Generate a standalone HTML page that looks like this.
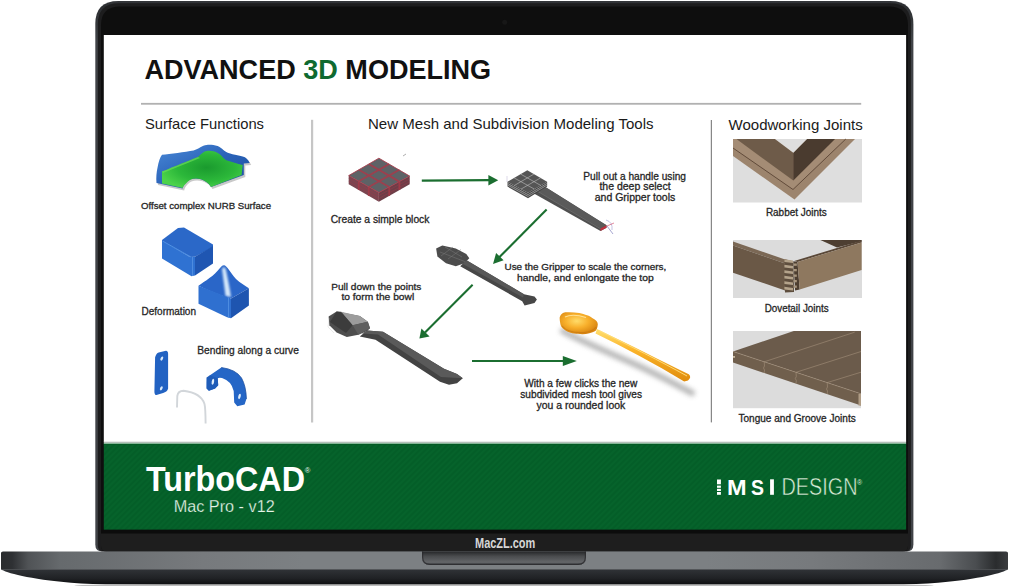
<!DOCTYPE html>
<html><head><meta charset="utf-8"><style>
html,body{margin:0;padding:0;background:#fff;width:1009px;height:586px;overflow:hidden}
svg{position:absolute;left:0;top:0;display:block}
text{font-family:"Liberation Sans",sans-serif}
</style></head><body>
<svg width="1009" height="586" viewBox="0 0 1009 586">
<defs>
 <linearGradient id="rim" gradientUnits="userSpaceOnUse" x1="0" y1="1" x2="0" y2="40">
  <stop offset="0" stop-color="#34363a"/><stop offset="0.12" stop-color="#2c2e31"/><stop offset="1" stop-color="#404347"/>
 </linearGradient>
 <linearGradient id="baseTop" gradientUnits="userSpaceOnUse" x1="1" y1="0" x2="1008" y2="0">
  <stop offset="0" stop-color="#2a2c2e"/><stop offset="0.011" stop-color="#2e3033"/><stop offset="0.027" stop-color="#505356"/><stop offset="0.059" stop-color="#666a6d"/><stop offset="0.2" stop-color="#777a7d"/>
  <stop offset="0.3" stop-color="#7c8083"/><stop offset="0.7" stop-color="#7c8083"/><stop offset="0.805" stop-color="#777a7d"/><stop offset="0.933" stop-color="#686b6e"/><stop offset="0.968" stop-color="#4a4d50"/><stop offset="0.988" stop-color="#2a2c2e"/><stop offset="1" stop-color="#3a3c3e"/>
 </linearGradient>
 <linearGradient id="baseBot" x1="0" y1="0" x2="0" y2="1">
  <stop offset="0" stop-color="#303337"/><stop offset="0.6" stop-color="#202225"/><stop offset="1" stop-color="#0e0f11"/>
 </linearGradient>
 <linearGradient id="notch" x1="0" y1="0" x2="0" y2="1">
  <stop offset="0" stop-color="#262729"/><stop offset="0.35" stop-color="#4a4c4e"/><stop offset="0.8" stop-color="#646669"/><stop offset="1" stop-color="#3a3c3e"/>
 </linearGradient>
 <pattern id="stripes" width="4" height="4" patternUnits="userSpaceOnUse" patternTransform="rotate(45)">
  <rect width="4" height="4" fill="#045e28"/><rect width="2" height="4" fill="#06632b"/>
 </pattern>

 <linearGradient id="nurbBlue" x1="0" y1="0" x2="1" y2="1">
  <stop offset="0" stop-color="#4a8ad8"/><stop offset="0.5" stop-color="#2a62b8"/><stop offset="1" stop-color="#1c4f9e"/>
 </linearGradient>
 <radialGradient id="nurbGreen" cx="0.55" cy="0.45" r="0.6">
  <stop offset="0" stop-color="#1a9a2e"/><stop offset="0.6" stop-color="#2cb83a"/><stop offset="1" stop-color="#4cd24a"/>
 </radialGradient>
 <linearGradient id="boxTop" x1="0" y1="0" x2="1" y2="1">
  <stop offset="0" stop-color="#2f6fd0"/><stop offset="1" stop-color="#2260bd"/>
 </linearGradient>
 <linearGradient id="pyrHi" x1="0" y1="0" x2="1" y2="0">
  <stop offset="0" stop-color="#2a6ad0" stop-opacity="0"/><stop offset="0.5" stop-color="#e8f4ff"/><stop offset="1" stop-color="#2a6ad0" stop-opacity="0"/>
 </linearGradient>
 <linearGradient id="gold" x1="0" y1="0" x2="0" y2="1">
  <stop offset="0" stop-color="#ffe070"/><stop offset="0.4" stop-color="#fbb42a"/><stop offset="1" stop-color="#e08c0c"/>
 </linearGradient>
 <radialGradient id="goldBowl" cx="0.45" cy="0.4" r="0.6">
  <stop offset="0" stop-color="#ffdc6a"/><stop offset="0.5" stop-color="#f8b02c"/><stop offset="1" stop-color="#d88410"/>
 </radialGradient>
 <filter id="blur1" x="-20%" y="-50%" width="140%" height="200%"><feGaussianBlur stdDeviation="2.5"/></filter>
 <filter id="blur2" x="-100%" y="-20%" width="300%" height="140%"><feGaussianBlur stdDeviation="1.1"/></filter>
 <filter id="blurS" x="-20%" y="-20%" width="140%" height="140%"><feGaussianBlur stdDeviation="0.6"/></filter>
</defs>

<!-- shadow under base -->
<ellipse cx="504" cy="585.5" rx="430" ry="2.2" fill="#bcbcbc" filter="url(#blurS)"/>
<!-- lid -->
<path d="M95.3,544.5 V24 Q95.3,1 118.3,1 H890.4 Q913.4,1 913.4,24 V544.5 Q913.4,551.5 906.4,551.5 H102.3 Q95.3,551.5 95.3,544.5 Z" fill="url(#rim)"/>
<path d="M97.8,545.5 V24.5 Q97.8,3.2 119.1,3.2 H889.6 Q910.9,3.2 910.9,24.5 V545.5 Q910.9,551.5 904.9,551.5 H103.8 Q97.8,551.5 97.8,545.5 Z" fill="#1d1d1e"/>
<path d="M101,546 V25.5 Q101,6.5 120,6.5 H889 Q908,6.5 908,25.5 V546 Q908,551.5 902.5,551.5 H106.5 Q101,551.5 101,546 Z" fill="#0e0e0e"/>
<circle cx="504.7" cy="22.2" r="2.5" fill="#171717"/>
<!-- screen -->
<rect x="103.8" y="35" width="802.3" height="407" fill="#ffffff"/>
<rect x="103.8" y="441.7" width="802.3" height="1.3" fill="#b7c0bb"/>
<rect x="103.8" y="442.9" width="802.3" height="1.1" fill="#a6cdb4"/>
<rect x="103.8" y="443.9" width="802.3" height="85.9" fill="url(#stripes)"/>
<rect x="103.8" y="443.9" width="802.3" height="0.9" fill="#045a25"/>
<!-- bottom bezel -->
<path d="M101,533.3 H908 V546 Q908,551.3 902.7,551.3 H106.3 Q101,551.3 101,546 Z" fill="#1e1e1e"/>
<rect x="101" y="529.8" width="807" height="3.5" fill="#0c0c0c"/>
<!-- base -->
<path d="M1,553 Q1,551.5 3,551.5 H1006 Q1008,551.5 1008,553 V569.5 H1 Z" fill="url(#baseTop)"/>
<path d="M1,569.3 H1008 C1004,572.5 979,579.5 938,582.8 Q919,584.3 889,584.3 H120 Q90,584.3 71,582.8 C30,579.5 5,572.5 1,569.3 Z" fill="url(#baseBot)"/>
<path d="M422,551.5 H586 V557 Q586,565 578,565 H430 Q422,565 422,557 Z" fill="url(#notch)"/>
<path d="M422.6,551.5 V557 Q422.6,564.4 430,564.4 H578 Q585.4,564.4 585.4,557 V551.5" fill="none" stroke="#2a2b2d" stroke-width="1.2" opacity="0.8"/>

<!-- header -->
<text x="144.4" y="79.3" font-size="28.3" font-weight="bold" fill="#111" textLength="346.8" lengthAdjust="spacingAndGlyphs">ADVANCED <tspan fill="#0f6a30">3D</tspan> MODELING</text>
<rect x="141" y="102.9" width="720.2" height="1.8" fill="#b1b1b1"/>
<rect x="311" y="119.8" width="2.2" height="302.7" fill="#c6c6c6"/>
<rect x="710.8" y="120" width="1.1" height="302.4" fill="#7a7a7a"/>

<text x="145" y="129.4" font-size="15" fill="#1a1a1a" textLength="119" lengthAdjust="spacingAndGlyphs">Surface Functions</text>
<text x="368" y="129.3" font-size="14.8" fill="#1a1a1a" textLength="285.5" lengthAdjust="spacingAndGlyphs">New Mesh and Subdivision Modeling Tools</text>
<text x="728.5" y="129.6" font-size="15" fill="#1a1a1a" textLength="134.2" lengthAdjust="spacingAndGlyphs">Woodworking Joints</text>

<!-- captions -->
<g fill="#262626" stroke="#262626" stroke-width="0.3">
<text x="141" y="209.3" font-size="9.7" textLength="130" lengthAdjust="spacingAndGlyphs">Offset complex NURB Surface</text>
<text x="141.5" y="315.4" font-size="10.7" textLength="54.5" lengthAdjust="spacingAndGlyphs">Deformation</text>
<text x="197.3" y="353.7" font-size="10.7" textLength="101.6" lengthAdjust="spacingAndGlyphs">Bending along a curve</text>
<text x="330.7" y="222.6" font-size="10.2" textLength="98.7" lengthAdjust="spacingAndGlyphs">Create a simple block</text>
<text x="583.3" y="179.5" font-size="10.5" textLength="102.7" lengthAdjust="spacingAndGlyphs">Pull out a handle using</text>
<text x="635" y="190" font-size="10.5" text-anchor="middle">the deep select</text>
<text x="635" y="200.8" font-size="10.5" text-anchor="middle">and Gripper tools</text>
<text x="504.5" y="270.4" font-size="9.6" textLength="161.8" lengthAdjust="spacingAndGlyphs">Use the Gripper to scale the corners,</text>
<text x="517.1" y="280.5" font-size="9.6" textLength="136.6" lengthAdjust="spacingAndGlyphs">handle, and enlongate the top</text>
<text x="331.2" y="289.5" font-size="9.9" textLength="90.2" lengthAdjust="spacingAndGlyphs">Pull down the points</text>
<text x="341.4" y="299.7" font-size="9.9" textLength="72.8" lengthAdjust="spacingAndGlyphs">to form the bowl</text>
<text x="524.3" y="387.3" font-size="10.2" textLength="113" lengthAdjust="spacingAndGlyphs">With a few clicks the new</text>
<text x="520.3" y="398.3" font-size="10.2" textLength="121.7" lengthAdjust="spacingAndGlyphs">subdivided mesh tool gives</text>
<text x="536.6" y="409" font-size="10.2" textLength="88.6" lengthAdjust="spacingAndGlyphs">you a rounded look</text>
<text x="765.9" y="216.1" font-size="10.6" textLength="60.9" lengthAdjust="spacingAndGlyphs">Rabbet Joints</text>
<text x="764.7" y="312.3" font-size="10.6" textLength="63.9" lengthAdjust="spacingAndGlyphs">Dovetail Joints</text>
<text x="738.5" y="421.8" font-size="10.2" textLength="117.2" lengthAdjust="spacingAndGlyphs">Tongue and Groove Joints</text>
</g>



<!-- left column -->
<g>
 <path d="M162,154.7 C170,153.8 185,152 193.6,150.4 C199,149 202,145 206.7,144.9 C211,144.7 214,145 217.6,146 C222,148 225,152 228.5,153.1 C234,155 239,155.5 242.7,156.4 C246,157.3 248,159 249.7,162.9 L243.8,163.4 L243.8,174.9 L211,186.9 C209,183.5 206,181 201,179.2 C194,177.5 189,179 186,182.5 C184,184.5 183,186.5 182.7,188.5 L156.5,183.1 C156,178 156.5,172 157.6,167.3 C158.5,162 160,157 162,154.7 Z" fill="#888" opacity="0.45" transform="translate(1.5,2)" filter="url(#blurS)"/>
 <path d="M162,154.7 C170,153.8 185,152 193.6,150.4 C199,149 202,145 206.7,144.9 C211,144.7 214,145 217.6,146 C222,148 225,152 228.5,153.1 C234,155 239,155.5 242.7,156.4 C246,157.3 248,159 249.7,162.9 L243.8,163.4 L243.8,174.9 L211,186.9 C209,183.5 206,181 201,179.2 C194,177.5 189,179 186,182.5 C184,184.5 183,186.5 182.7,188.5 L156.5,183.1 C156,178 156.5,172 157.6,167.3 C158.5,162 160,157 162,154.7 Z" fill="url(#nurbBlue)"/>
 <path d="M162,171.6 C175,166 188,161 198,156.9 C201,154 204,151 206.7,150.9 C212,150.5 216,151.5 219.8,154.2 C222,156 224,159 226.3,160.2 C232,162 237,163.5 242.7,165.1 L241.6,174.9 L211,186.9 C209,183.5 206,181 201.2,179.2 C194,177.5 189,179.5 186,183.6 C184,185.5 183,187 182.7,188 L162,183.6 Z" fill="url(#nurbGreen)"/>
 <path d="M162,171.6 C175,166 188,161 198,156.9 L200,158 C188,163 175,168 163,173 Z" fill="#6ad85a" opacity="0.7"/>
</g>
<g>
 <polygon points="162,240 178,228 184,227.6 213,244.5 213,247 195,256.8 190,257 162,242" fill="#2b68c8"/>
 <polygon points="162,241 190,257 195,256.8 195,275.5 191.5,276.3 162,258.5" fill="#2f72d2"/>
 <polygon points="195,256.8 213,246 213,263.5 195,275.5" fill="#1f56b2"/>
 <line x1="162.5" y1="241" x2="191" y2="257" stroke="#5b9ae8" stroke-width="0.8"/>
 <line x1="192.5" y1="257" x2="192.5" y2="276" stroke="#4d8ce0" stroke-width="1"/>
</g>
<g>
 <path d="M198.5,285.7 C205,281 214,276 220,268 C222,265.5 223,265 224.3,265.2 C227,266 230,272 236,279 C240,283 245,285.5 248.9,288.3 L231,298.5 C222,296 210,291 198.5,285.7 Z" fill="#2a66c8"/>
 <path d="M222,269 C223.5,266.5 225,266.5 226,270 C228,280 230,289 231,297 L225.5,296 C224.5,287 223,278 222,269 Z" fill="#e6f4ff" opacity="0.9" filter="url(#blur2)"/>
 <polygon points="198.5,285.7 231,298.5 231,318.2 227,317.3 198.5,303.7" fill="#2f70d0"/>
 <polygon points="231,298.5 248.9,288.3 248.9,305.4 231,318.2" fill="#1e55b0"/>
 <line x1="228.5" y1="298" x2="228.5" y2="317.5" stroke="#4d8ce0" stroke-width="1"/>
</g>
<g>
 <path d="M155.1,357.3 C156,354.5 157,353 158.7,352.5 L166,350.8 C167.5,351 168.1,352 168.1,353.7 L168.1,388.5 C167.5,391 165.5,392.3 163.1,392.9 L156.5,395.1 C155,395 154.4,393.5 154.4,391.4 Z" fill="#2262c2"/>
 <ellipse cx="161.8" cy="358.6" rx="1.2" ry="2.2" transform="rotate(25 161.8 358.6)" fill="#d8e8f8"/>
 <ellipse cx="161.3" cy="388.3" rx="1.2" ry="2.2" transform="rotate(25 161.3 388.3)" fill="#d8e8f8"/>
 <path d="M209,377.8 L210,375.2 L221.3,367.5 Q236,369.5 241.5,378 Q246,386 246.4,399 L244.6,404.4 L237.3,406.3 L234.2,402.6 L233.7,391 Q231.5,381 222,378 Q219,377.3 217.7,378.3 L218.2,385.3 L215.1,388.4 L208.9,390.8 L206.6,388.4 L206.7,377.6 Z" fill="#2566c6"/>
 <path d="M206.7,377.6 L209.8,375.2 L217.7,378.3 L218.2,385.3 L215.1,388.4 L208.9,390.8 L206.6,388.4 Z" fill="#1f5cb8"/>
 <path d="M221.3,367.5 Q236,369.5 241.5,378 Q246,386 246.4,399" fill="none" stroke="#1a4ea0" stroke-width="0.8"/>
 <ellipse cx="212.9" cy="381.8" rx="1.2" ry="3" transform="rotate(10 212.9 381.8)" fill="#e0eefa"/>
 <ellipse cx="239.5" cy="396.4" rx="1.2" ry="2.8" transform="rotate(15 239.5 396.4)" fill="#e0eefa"/>
 <path d="M177,407.5 L177.3,396 Q178,391 183.5,390.8 Q201,393 204.5,404 Q205.5,408 205.6,423.5" fill="none" stroke="#d2d6da" stroke-width="1.9"/>
</g>

<!-- middle column -->
<g>
 <polygon points="348.7,175.6 378.9,158.2 409.7,176.1 378.9,192.5" fill="#5e6266"/>
 <polygon points="348.7,175.6 378.9,192.5 378.9,201.7 348.7,184.3" fill="#7a4550"/>
 <polygon points="378.9,192.5 409.7,176.1 409.7,184.3 378.9,201.7" fill="#6e3e48"/>
 <g stroke="#a83a4a" stroke-width="1.8" fill="none" opacity="0.85" filter="url(#blurS)">
  <polygon points="348.7,175.6 378.9,158.2 409.7,176.1 378.9,192.5" stroke-width="1"/>
  <line x1="358.8" y1="169.8" x2="389.2" y2="187"/>
  <line x1="368.8" y1="164" x2="399.4" y2="181.6"/>
  <line x1="358.8" y1="181.2" x2="389.2" y2="164"/>
  <line x1="368.8" y1="187" x2="399.4" y2="169.8"/>
  <line x1="358.8" y1="181.2" x2="358.8" y2="190"/>
  <line x1="368.8" y1="187" x2="368.8" y2="196"/>
  <line x1="389.2" y1="187" x2="389.2" y2="196"/>
  <line x1="399.4" y1="181.6" x2="399.4" y2="190"/>
 </g>
 <g stroke="#9a3a48" stroke-width="0.5" fill="none">
  <polyline points="348.7,178.5 378.9,195.5 409.7,179"/>
  <polyline points="348.7,181.3 378.9,198.5 409.7,181.8"/>
 </g>
 <line x1="403" y1="156" x2="406" y2="154" stroke="#999" stroke-width="0.8"/>
</g>
<g>
 <polygon points="534.8,189.4 545.7,187.2 606.5,225.2 606.5,227.8 600.5,231 534.8,194" fill="#505050"/>
 <polygon points="534.8,189.4 545.7,187.2 606.5,225.2 601,228.3" fill="#5a5a5a"/>
 <line x1="537" y1="191" x2="601" y2="229" stroke="#8a8a8a" stroke-width="0.4"/>
 <polygon points="600.5,228.5 606.5,225.2 606.5,227.8 600.5,231" fill="#c03040"/>
 <polygon points="507.5,181.8 527.3,170.2 547.1,181.8 528,192.8" fill="#555555"/>
 <polygon points="507.5,181.8 528,192.8 528,198.2 507.5,186.6" fill="#4a4a4a"/>
 <polygon points="528,192.8 547.1,181.8 547.1,186.6 528,198.2" fill="#444"/>
 <g stroke="#bdbdbd" stroke-width="0.6" fill="none">
  <line x1="514.1" y1="177.9" x2="534.4" y2="189.1"/>
  <line x1="520.7" y1="174.1" x2="540.8" y2="185.5"/>
  <line x1="514.3" y1="185.5" x2="533.9" y2="174.1"/>
  <line x1="521" y1="189.1" x2="540.6" y2="177.9"/>
  <polyline points="507.5,183.4 528,194.6 547.1,183.4"/>
  <polyline points="507.5,185 528,196.4 547.1,185"/>
 </g>
 <line x1="507" y1="176" x2="507" y2="182" stroke="#b8b0d0" stroke-width="0.5"/>
 <g stroke-width="0.6" fill="none">
  <path d="M606,220 Q613,222 612,230" stroke="#9a9ad0"/>
  <line x1="607" y1="226" x2="614" y2="223" stroke="#d04060"/>
  <line x1="607" y1="226" x2="613" y2="234" stroke="#6a6ab0"/>
 </g>
</g>
<g>
 <polygon points="436.1,248.4 442.3,245.6 455.8,248.4 466.3,254 469.3,258.3 464.4,263.2 455.8,266.3 446,263.2 437.4,256.4" fill="#4c4c4c"/>
 <g stroke="#7a7a7a" stroke-width="0.5" fill="none">
  <line x1="440" y1="252" x2="466" y2="262"/>
  <line x1="445" y1="247" x2="462" y2="257"/>
  <line x1="448" y1="259" x2="461" y2="249.5"/>
  <line x1="441" y1="256" x2="453" y2="247"/>
 </g>
 <polygon points="466.5,260.3 524,294.2 534.5,296.4 536.9,299.5 534.5,303.1 524.6,305.6 522.2,301.2 460.2,266.2" fill="#474747"/>
 <polygon points="466.5,260.3 524,294.2 523,297.5 462.5,263.8" fill="#585858"/>
</g>
<g>
 <polygon points="328.6,316.6 336.6,311.5 359.8,315.9 367.8,321.7 370,328.2 367.1,331.1 358.4,334.7 346.8,336.9 336.6,332.6 329.4,325.3" fill="#4e4e4e"/>
 <polygon points="341,311.8 359.8,315.9 367.8,321.7 352.6,325.3" fill="#9c9c9c"/>
 <polygon points="336.6,311.5 341,311.8 352.6,325.3 346,333 330,322" fill="#3c3c3c"/>
 <polygon points="352.6,325.3 367.8,321.7 370,328.2 358.4,334.7" fill="#5e5e5e"/>
 <polygon points="367.1,330.4 383,331.8 444,368.8 457,373.9 462.8,378.3 457,383.3 449,384.8 440,381.8 375.5,339.8 359.8,336.5" fill="#434343"/>
 <polygon points="367.1,330.4 383,331.8 444,368.8 457,373.9 462.8,378.3 441,377 378,334.5 362,333.5" fill="#5a5a5a"/>
 <path d="M329,318 L328,327 L334,333" fill="none" stroke="#ccc" stroke-width="0.4"/>
</g>
<g>
 <path d="M563,331 C575,338 600,349 630,362 C655,373 675,384 692,393" stroke="#a8a8a8" stroke-width="6" fill="none" filter="url(#blur1)" opacity="0.85" stroke-linecap="round"/>
 <path d="M597,329 C630,345 660,360 688.8,374.3 Q692,377 688,380.5 L684.2,381.6 C655,364 625,348 595.5,333.6 Z" fill="url(#gold)"/>
 <path d="M559.7,317.2 C561,313.5 564,312.3 566.2,312.3 C571,312 575,312.5 579.2,313.1 C585,314.5 590,316 592.2,318 C596,320 598,322 597.8,324.5 C597.5,328 596.5,330 595.4,331 C592,333 587,334.2 582.4,334.2 C577,334.2 571,333.5 567.8,331.8 C564,330 561,327 560.5,324.5 C560,322 559.5,319 559.7,317.2 Z" fill="url(#goldBowl)"/>
 <path d="M562,326 C566,331 575,333 584,332.5 C590,332 594,330 596,327" fill="none" stroke="#c87810" stroke-width="1.2" opacity="0.7"/>
 <path d="M565,317 C570,314.5 578,315 586,317.5" fill="none" stroke="#ffe6a0" stroke-width="1.2" opacity="0.9"/>
 <path d="M599,330.5 C630,346 660,361 687,376" fill="none" stroke="#ffe080" stroke-width="1" opacity="0.9"/>
</g>
<!-- arrows -->
<g fill="#1b6e30" stroke="#1b6e30">
 <line x1="421.8" y1="180.6" x2="489" y2="180.2" stroke-width="2.3"/>
 <polygon points="488.4,175 498.2,180.2 488.4,185.5" stroke="none"/>
 <line x1="546.6" y1="209.6" x2="499" y2="257.5" stroke-width="2.1"/>
 <polygon points="496.1,253 493,263.9 503.6,260.2" stroke="none"/>
 <line x1="472.6" y1="284.8" x2="425" y2="332.5" stroke-width="2.1"/>
 <polygon points="421.4,328.4 419.4,338.6 429.6,336.6" stroke="none"/>
 <line x1="472" y1="361" x2="564" y2="361" stroke-width="2.1"/>
 <polygon points="562.8,355.9 576.8,361 562.8,365.9" stroke="none"/>
</g>

<!-- wood images -->
<g transform="translate(733,139)">
 <rect width="129" height="63.5" fill="#dedede"/>
 <polygon points="0,0 122,0 61.5,60.5 0,17" fill="#9c846d"/>
 <polygon points="0,0 3.5,0 60.3,41.6 102,0 113,0 60,50.5 0,9" fill="#a48c75"/>
 <polyline points="0,9 60,50.5 112.8,0" fill="none" stroke="#5a4434" stroke-width="0.9"/>
 <polygon points="3.5,0 42,0 60.3,13.7 60.3,41.6" fill="#6e5b49"/>
 <polygon points="60.3,13.7 74,0 102,0 60.3,41.6" fill="#4a3b2f"/>
 <polygon points="42,0 74,0 60.3,13.7" fill="#dedede"/>
</g>
<g transform="translate(733,240)">
 <rect width="129" height="58" fill="#dcdcdc"/>
 <polygon points="87.4,0 128.6,0 128.6,1.2 104,7.5" fill="#4e3f32"/>
 <polygon points="0,1.5 55,20.5 55,24.5 0,5.5" fill="#7b6855"/>
 <polygon points="0,5.5 55,24.5 55,51.5 0,32.7" fill="#6a5846"/>
 <polygon points="51.4,19 60.5,21.5 61,52 52,52.5" fill="#5e4e3e"/>
 <polygon points="51.4,19.3 60,20.5 60,22.9 51.4,21.9" fill="#b4a38b"/>
 <polygon points="51.4,24.8 60,26.0 60,28.4 51.4,27.4" fill="#b4a38b"/>
 <polygon points="51.4,30.3 60,31.5 60,33.9 51.4,32.9" fill="#b4a38b"/>
 <polygon points="51.4,35.8 60,37.0 60,39.4 51.4,38.4" fill="#b4a38b"/>
 <polygon points="51.4,41.3 60,42.5 60,44.9 51.4,43.9" fill="#b4a38b"/>
 <polygon points="51.4,46.8 60,48.0 60,50.4 51.4,49.4" fill="#b4a38b"/>
 <polygon points="61.2,21 128.6,0.4 128.6,2.6 64.5,21.9" fill="#5a4838"/>
 <polygon points="60.5,21.2 64.5,21.9 66.7,49.6 62,50.5" fill="#4d3e30"/>
 <polygon points="64.5,21.9 128.6,2.6 128.6,30 66.7,49.6" fill="#8e785f"/>
 <rect x="60.6" y="23.5" width="3.2" height="2.3" fill="#a8967e"/>
 <rect x="60.6" y="29" width="3.2" height="2.3" fill="#a8967e"/>
 <rect x="60.6" y="34.5" width="3.2" height="2.3" fill="#a8967e"/>
 <rect x="60.6" y="40" width="3.2" height="2.3" fill="#a8967e"/>
 <rect x="60.6" y="45.5" width="3.2" height="2.3" fill="#a8967e"/>
</g>
<g transform="translate(733,331)">
 <rect width="128" height="77.2" fill="#dcdcdc"/>
 <polygon points="0,20.5 60.8,0 128,0 128,62.8" fill="#6b5b4b"/>
 <polygon points="0,20.5 128,62.8 128,74.6 0,31.6" fill="#705f4d"/>
 <g stroke="#a8957f" stroke-width="0.55" fill="none">
  <line x1="31.2" y1="30.8" x2="121.7" y2="1.2"/>
  <line x1="63" y1="41.3" x2="128" y2="20.5"/>
  <line x1="94.2" y1="51.6" x2="128" y2="41.2"/>
  <polyline points="0,20.5 128,62.8"/>
  <polyline points="31.2,30.8 31.5,35 30.5,37 31.5,39 31.2,42"/>
  <polyline points="63,41.3 63.3,45.5 62.3,47.5 63.3,49.5 63,52.5"/>
  <polyline points="94.2,51.6 94.5,56 93.5,58 94.5,60 94.2,63"/>
 </g>
 <rect x="125.5" y="63" width="2.5" height="11.6" fill="#b09d86"/>
 <rect x="0" y="25" width="2" height="1.8" fill="#c8b8a0"/>
</g>

<!-- footer -->
<text x="146" y="490.7" font-size="34.3" font-weight="bold" fill="#ffffff" textLength="159" lengthAdjust="spacingAndGlyphs">TurboCAD</text>
<text x="304.8" y="473.2" font-size="7.6" fill="#e6f2e8">®</text>
<text x="173.7" y="512.4" font-size="17.3" fill="#e6f5e8" stroke="#05602a" stroke-width="0.25" textLength="101" lengthAdjust="spacingAndGlyphs">Mac Pro - v12</text>


<g fill="#ffffff">
 <rect x="717" y="479.5" width="3.9" height="4.8"/>
 <rect x="717" y="485.6" width="3.9" height="2.2"/>
 <rect x="717" y="488.8" width="3.9" height="2.2"/>
 <rect x="717" y="492" width="3.9" height="2.8"/>
 <text x="727" y="494.8" font-size="22.6" font-weight="bold" textLength="19.6" lengthAdjust="spacingAndGlyphs">M</text>
 <text x="751" y="494.8" font-size="22.6" font-weight="bold" textLength="13" lengthAdjust="spacingAndGlyphs">S</text>
 <rect x="770.1" y="479.3" width="3.8" height="15.5"/>
</g>
<text x="781.5" y="495" font-size="23" fill="#d8eed8" stroke="#05602a" stroke-width="0.5" textLength="76" lengthAdjust="spacingAndGlyphs">DESIGN</text>
<text x="857" y="484.5" font-size="7" fill="#d8eed8">®</text>

<text x="475" y="547.6" font-size="15.1" font-weight="bold" fill="#d6d6d6" textLength="60.3" lengthAdjust="spacingAndGlyphs">MacZL.com</text>
</svg>
</body></html>
